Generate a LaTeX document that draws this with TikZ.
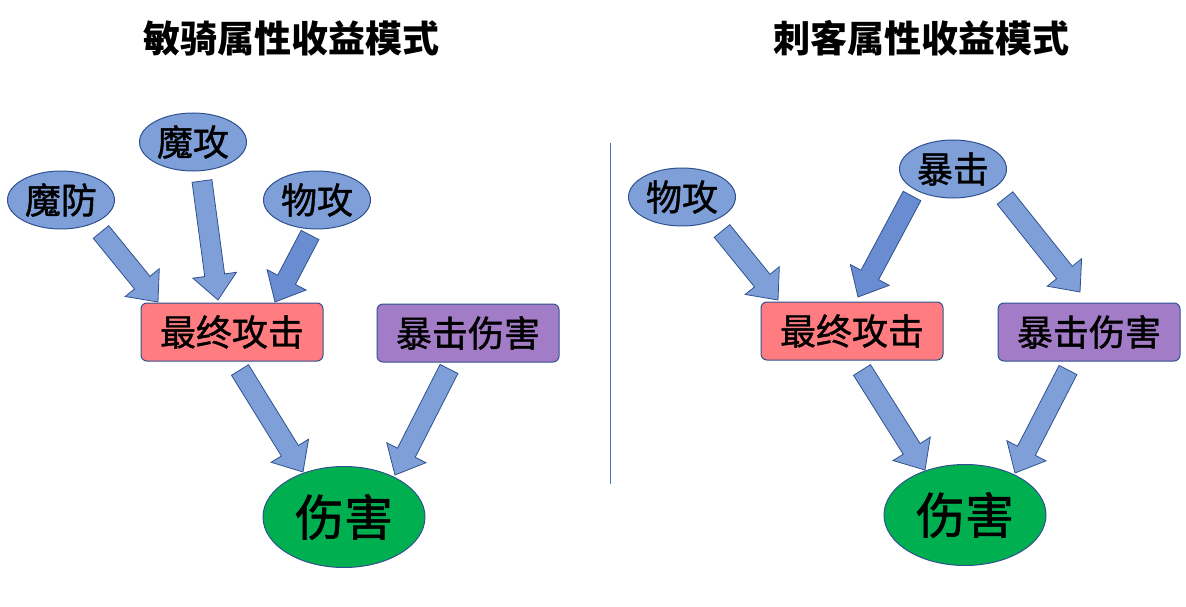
\documentclass[tikz,border=0pt]{standalone}
\usepackage{fontspec}
\setmainfont{Noto Sans CJK SC}
\newfontfamily\labfont{Noto Sans CJK SC}[FakeBold=1.2]
\usetikzlibrary{shapes.geometric,calc}
\definecolor{ellfill}{HTML}{7F9FD8}
\definecolor{arrfill}{HTML}{7F9FD8}
\definecolor{arrdark}{HTML}{6A8CD0}
\definecolor{edge}{HTML}{2F528F}
\definecolor{redfill}{HTML}{FF7C80}
\definecolor{purfill}{HTML}{A27CC6}
\definecolor{grnfill}{HTML}{00B050}
\definecolor{divider}{HTML}{4472C4}
\tikzset{
  attr/.style={ellipse, draw=edge, line width=1pt, fill=ellfill, minimum width=107pt, minimum height=58pt, inner sep=0pt, font=\labfont\fontsize{36}{40}\selectfont},
  midbox/.style={rectangle, rounded corners=6pt, draw=edge, line width=1pt, minimum width=182pt, minimum height=58pt, inner sep=0pt, font=\labfont\fontsize{36}{40}\selectfont},
  dmg/.style={ellipse, draw=edge, line width=1pt, fill=grnfill, minimum width=162pt, minimum height=101pt, inner sep=0pt, font=\labfont\fontsize{49}{54}\selectfont},
  ttl/.style={font=\fontsize{37}{40}\selectfont\bfseries},
  barrowstyle/.style={draw=edge, line width=0.8pt, fill=arrfill, line join=miter},
}
% block arrow: [options]{tail}{tip}
\newcommand{\barrow}[3][]{%
  \coordinate (#2-b) at ($(#3)!25pt!(#2)$);
  \draw[barrowstyle, #1]
    ($(#2)!10pt!90:(#3)$) -- ($(#2-b)!10pt!90:(#3)$) -- ($(#2-b)!22pt!90:(#3)$) -- (#3)
    -- ($(#2-b)!22pt!-90:(#3)$) -- ($(#2-b)!10pt!-90:(#3)$) -- ($(#2)!10pt!-90:(#3)$) -- cycle;}
\begin{document}
\begin{tikzpicture}[x=1pt,y=-1pt]
\useasboundingbox (0,0) rectangle (1186,607);
% titles
\node[ttl] (tl) at (291,38) {敏骑属性收益模式};
\node[ttl] (tr) at (921,38) {刺客属性收益模式};
% divider
\coordinate (dt) at (610,143);
\coordinate (db) at (610,484);
\draw[divider, line width=0.8pt] (dt) -- (db);
% left nodes
\node[attr] (lmf) at (61,200) {魔防};
\node[attr] (lmg) at (193,142) {魔攻};
\node[attr] (lwg) at (317,200) {物攻};
\node[midbox, fill=redfill] (lzz) at (232,332) {最终攻击};
\node[midbox, fill=purfill] (lbs) at (468,333) {暴击伤害};
\node[dmg] (lsh) at (344,517) {伤害};
% right nodes
\node[attr] (rwg) at (682,197) {物攻};
\node[attr] (rbj) at (953,169) {暴击};
\node[midbox, fill=redfill] (rzz) at (852,331) {最终攻击};
\node[midbox, fill=purfill] (rbs) at (1089,332) {暴击伤害};
\node[dmg] (rsh) at (965,515) {伤害};
% arrow end points
\coordinate (a1t) at (101,232); \coordinate (a1h) at (158,302);
\coordinate (a2t) at (202,181); \coordinate (a2h) at (218,300);
\coordinate (a3t) at (310,235); \coordinate (a3h) at (275,302);
\coordinate (a4t) at (240,370); \coordinate (a4h) at (303,472);
\coordinate (a5t) at (449,369); \coordinate (a5h) at (395,475);
\coordinate (b1t) at (722,231); \coordinate (b1h) at (778,300);
\coordinate (b2t) at (912,196); \coordinate (b2h) at (858,297);
\coordinate (b3t) at (1005,198); \coordinate (b3h) at (1080,292);
\coordinate (b4t) at (862,370); \coordinate (b4h) at (925,470);
\coordinate (b5t) at (1068,370); \coordinate (b5h) at (1015,473);
\barrow{a1t}{a1h}
\barrow{a2t}{a2h}
\barrow[fill=arrdark]{a3t}{a3h}
\barrow{a4t}{a4h}
\barrow{a5t}{a5h}
\barrow{b1t}{b1h}
\barrow[fill=arrdark]{b2t}{b2h}
\barrow{b3t}{b3h}
\barrow{b4t}{b4h}
\barrow{b5t}{b5h}
\end{tikzpicture}
\end{document}
